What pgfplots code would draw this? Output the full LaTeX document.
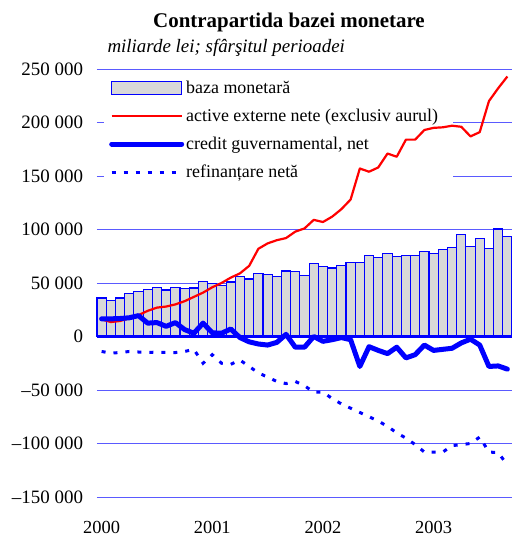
\documentclass[border=0pt]{standalone}
\usepackage{fontspec}
\setmainfont{Liberation Serif}
\usepackage{pgfplots}
\pgfplotsset{compat=1.18}
\usepackage{pgfplotstable}

\pgfplotstableread{
i baza active credit refin
0 36.0 16.0 16.5 -14.0
1 33.8 13.5 16.5 -15.5
2 36.0 14.5 16.8 -15.0
3 40.3 17.0 17.5 -14.0
4 41.9 20.0 19.5 -14.5
5 43.8 24.0 12.5 -15.0
6 45.7 27.0 13.0 -14.5
7 43.5 28.0 9.5 -15.0
8 46.0 30.0 13.0 -15.0
9 45.0 33.0 6.5 -14.0
10 45.4 37.0 3.0 -12.0
11 51.6 41.0 12.5 -25.0
12 49.7 46.0 3.5 -17.0
13 48.0 50.0 3.0 -25.0
14 51.0 55.0 7.0 -26.0
15 56.2 59.0 -1.0 -22.0
16 53.8 66.0 -5.0 -28.0
17 58.8 82.0 -7.0 -34.0
18 57.6 87.0 -8.0 -38.0
19 56.3 90.0 -5.5 -42.0
20 61.2 92.0 2.0 -44.0
21 60.4 98.0 -10.0 -42.0
22 57.1 101.0 -10.0 -46.0
23 67.9 109.0 0.0 -52.0
24 65.6 107.0 -4.5 -52.0
25 64.1 112.0 -3.0 -58.0
26 66.0 119.0 -1.0 -63.0
27 69.3 128.0 -3.0 -67.0
28 68.8 157.0 -28.0 -71.0
29 75.4 154.0 -9.5 -75.0
30 73.8 158.0 -13.0 -79.0
31 77.3 171.0 -16.0 -84.0
32 75.0 168.0 -10.0 -90.0
33 75.4 184.0 -20.0 -95.0
34 75.4 184.0 -17.0 -101.0
35 79.7 193.0 -8.0 -108.0
36 77.3 195.0 -13.0 -108.0
37 81.0 195.5 -12.0 -108.0
38 83.5 197.0 -11.0 -102.0
39 95.4 196.0 -6.0 -101.0
40 84.4 187.0 -2.5 -100.0
41 91.4 191.0 -8.0 -94.0
42 82.3 220.0 -28.0 -108.0
43 100.4 232.0 -27.5 -108.5
44 93.8 243.0 -30.5 -120.0
}\data

\definecolor{barfill}{RGB}{216,216,216}
\definecolor{gridblue}{RGB}{90,90,255}

\pgfplotsset{
  barleg/.style={legend image code/.code={\draw[##1, line width=1bp] (0bp,-6.5bp) rectangle (70bp,6.5bp);}},
  lineleg/.style={legend image code/.code={\draw[##1] (0bp,0bp) -- (70bp,0bp);}},
}

\begin{document}
\begin{tikzpicture}
\useasboundingbox (-97bp,-40bp) rectangle (415bp,497bp);
\begin{axis}[
  at={(0,0)}, anchor=south west,
  scale only axis, width=415bp, height=428bp,
  xmin=-0.5, xmax=44.5, ymin=-150000, ymax=250000,
  scaled y ticks=false,
  xtick={0,12,24,36}, xticklabels={2000,2001,2002,2003},
  ytick={-150000,-100000,-50000,0,50000,100000,150000,200000,250000},
  yticklabels={{–150 000},{–100 000},{–50 000},{0},{50 000},{100 000},{150 000},{200 000},{250 000}},
  ymajorgrids, grid style={gridblue, line width=0.9bp},
  axis line style={draw=none}, major tick length=0pt,
  yticklabel style={anchor=east, xshift=-10.5bp, font=\fontsize{19}{21}\selectfont},
  xticklabel style={anchor=north, yshift=-21bp, font=\fontsize{18.5}{21}\selectfont},
  clip=false,
  legend style={at={(8bp,421bp)}, anchor=north west, draw=none, fill=none,
    font=\fontsize{18}{20}\selectfont, row sep=10bp, inner xsep=4bp, inner ysep=3bp,
    cells={anchor=west}},
  legend cell align=left,
]
\addplot[ybar, bar width=1, bar shift=0pt, draw=blue, line width=1.2bp, fill=barfill, barleg]
  table[x=i, y expr=\thisrow{baza}*1000] {\data};
\addlegendentry{baza monetară}
\fill[white] (axis cs:0.26,137000) rectangle (axis cs:38.1,243000);
\draw[blue, line width=2.4bp] (axis cs:-0.5,0) -- (axis cs:44.5,0);
\addplot[red, line width=2.2bp, line join=round, lineleg]
  table[x=i, y expr=\thisrow{active}*1000] {\data};
\addlegendentry{active externe nete (exclusiv aurul)}
\addplot[blue, line width=5bp, line join=round, line cap=round, lineleg]
  table[x=i, y expr=\thisrow{credit}*1000] {\data};
\addlegendentry{credit guvernamental, net}
\addplot[blue, line width=3bp, dash pattern=on 4bp off 8bp, lineleg]
  table[x=i, y expr=\thisrow{refin}*1000] {\data};
\addlegendentry{refinanțare netă}
\end{axis}
\node[font=\bfseries\fontsize{21}{24}\selectfont] at (192bp,475bp) {Contrapartida bazei monetare};
\node[font=\itshape\fontsize{19}{22}\selectfont, anchor=west] at (7bp,449bp) {miliarde lei; sfârşitul perioadei};
\end{tikzpicture}
\end{document}
